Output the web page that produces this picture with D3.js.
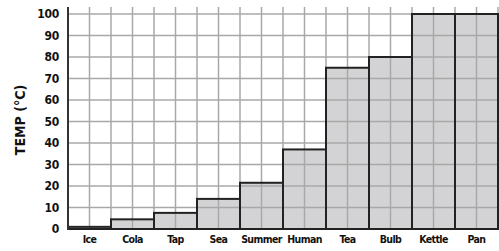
<!DOCTYPE html>
<html>
<head>
<meta charset="utf-8">
<script src="https://cdn.jsdelivr.net/npm/d3@7"></script>
<style>
  body { margin: 0; background: #fff; }
  text { font-family: "DejaVu Sans Condensed", "DejaVu Sans", sans-serif; font-weight: bold; fill: #111; }
</style>
</head>
<body>
<div id="chart"></div>
<script>
const categories = ['Ice', 'Cola', 'Tap', 'Sea', 'Summer', 'Human', 'Tea', 'Bulb', 'Kettle', 'Pan']
const temps = [1, 4.5, 7.5, 14, 21.5, 37, 75, 80, 100, 100]
const yTicks = [0, 10, 20, 30, 40, 50, 60, 70, 80, 90, 100]
const yLabel = 'TEMP (°C)'

const width = 499, height = 251
const margin = { top: 7, right: 1, bottom: 22, left: 68 }

const svg = d3.select('#chart')
    .append('svg')
    .attr('width', width)
    .attr('height', height)

const x = d3.scaleBand()
    .domain(categories)
    .range([margin.left, width - margin.right])
    .padding(0)

const y = d3.scaleLinear()
    .domain([0, 100])
    .range([height - margin.bottom, 14])

// bar fills first so the grid shows through
svg.append('g')
    .selectAll('rect')
    .data(categories)
    .enter()
    .append('rect')
    .attr('x', d => x(d))
    .attr('y', (d, i) => y(temps[i]))
    .attr('width', x.bandwidth())
    .attr('height', (d, i) => y(0) - y(temps[i]))
    .attr('fill', '#d3d3d5')

// grid: vertical lines every half band
const halfSteps = d3.range(1, categories.length * 2 + 1)
svg.append('g')
    .selectAll('line')
    .data(halfSteps)
    .enter()
    .append('line')
    .attr('x1', k => margin.left + k * x.bandwidth() / 2)
    .attr('x2', k => margin.left + k * x.bandwidth() / 2)
    .attr('y1', margin.top)
    .attr('y2', y(0))
    .attr('stroke', '#a8a8a8')
    .attr('stroke-width', 1.5)

svg.append('g')
    .selectAll('line')
    .data(yTicks.filter(t => t > 0))
    .enter()
    .append('line')
    .attr('x1', margin.left)
    .attr('x2', width)
    .attr('y1', d => y(d))
    .attr('y2', d => y(d))
    .attr('stroke', '#a8a8a8')
    .attr('stroke-width', 1.5)

// bar outlines
svg.append('g')
    .selectAll('rect')
    .data(categories)
    .enter()
    .append('rect')
    .attr('x', d => x(d))
    .attr('y', (d, i) => y(temps[i]))
    .attr('width', x.bandwidth())
    .attr('height', (d, i) => y(0) - y(temps[i]))
    .attr('fill', 'none')
    .attr('stroke', '#222')
    .attr('stroke-width', 2)

// axes
const yAxis = d3.axisLeft(y)
    .tickValues(yTicks)
    .tickSize(0)
    .tickPadding(9)

const ay = svg.append('g')
    .attr('transform', `translate(${margin.left}, 0)`)
    .call(yAxis)
ay.select('.domain').remove()
ay.selectAll('text')
    .attr('font-size', '12px')
    .attr('font-family', null)
    .attr('letter-spacing', '-0.3px')

svg.append('line')
    .attr('x1', margin.left).attr('x2', margin.left)
    .attr('y1', margin.top).attr('y2', y(0) + 1)
    .attr('stroke', '#333')
    .attr('stroke-width', 2)

const xAxis = d3.axisBottom(x)
    .tickSize(0)
    .tickPadding(7)

const ax = svg.append('g')
    .attr('transform', `translate(0, ${y(0)})`)
    .call(xAxis)
ax.select('.domain').remove()
ax.selectAll('text')
    .attr('font-size', '10.5px')
    .attr('font-family', null)
    .attr('letter-spacing', '-0.6px')

svg.append('text')
    .attr('transform', `translate(25, 120) rotate(-90)`)
    .attr('text-anchor', 'middle')
    .attr('font-size', '14px')
    .text(yLabel)
</script>
</body>
</html>
